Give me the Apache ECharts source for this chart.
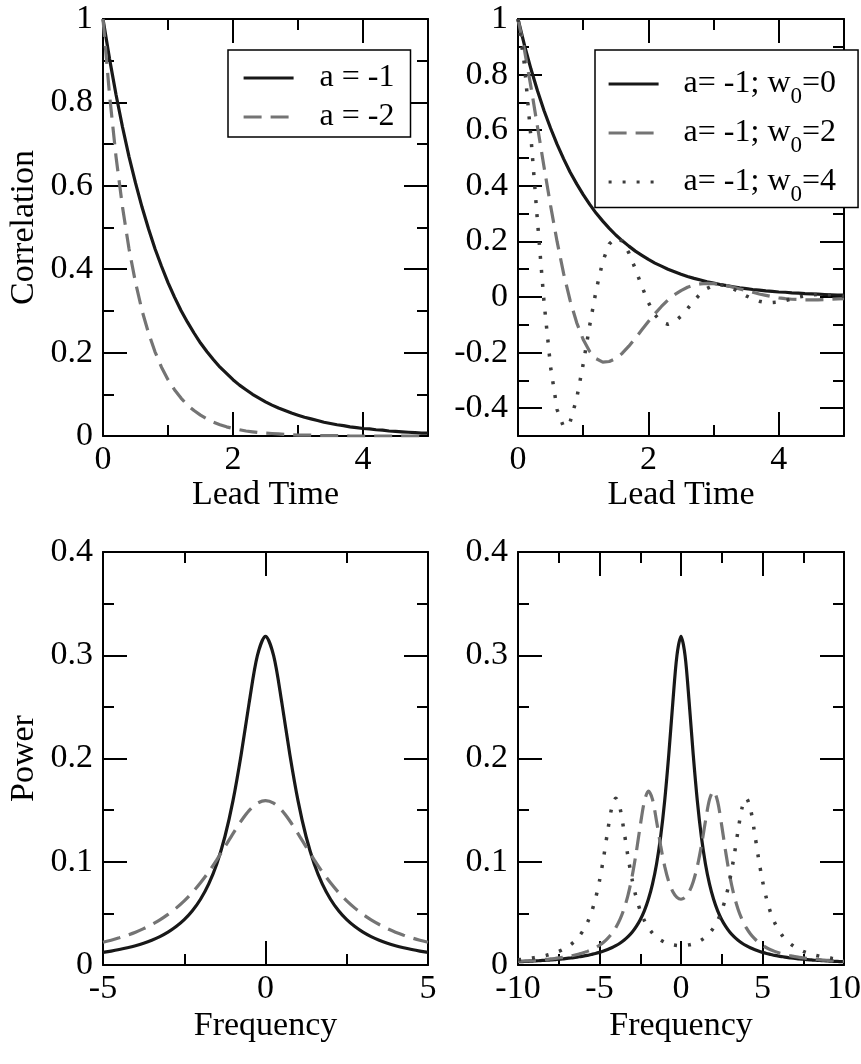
<!DOCTYPE html>
<html>
<head>
<meta charset="utf-8">
<script src="https://cdn.jsdelivr.net/npm/echarts@6/dist/echarts.min.js"></script>
<style>
html, body { margin: 0; padding: 0; background: #fff; }
#main { width: 861px; height: 1064px; }
</style>
</head>
<body>
<div id="main"></div>
<script>
// lead time axis (top panels)
var lag = [0, 0.1, 0.2, 0.3, 0.4, 0.5, 0.6, 0.7, 0.8, 0.9, 1, 1.1, 1.2, 1.3, 1.4, 1.5, 1.6, 1.7, 1.8, 1.9,
  2, 2.1, 2.2, 2.3, 2.4, 2.5, 2.6, 2.7, 2.8, 2.9, 3, 3.1, 3.2, 3.3, 3.4, 3.5, 3.6, 3.7, 3.8, 3.9,
  4, 4.1, 4.2, 4.3, 4.4, 4.5, 4.6, 4.7, 4.8, 4.9, 5];

var corrA1 = [1, 0.905, 0.819, 0.741, 0.670, 0.607, 0.549, 0.497, 0.449, 0.407, 0.368, 0.333, 0.301, 0.273, 0.247,
  0.223, 0.202, 0.183, 0.165, 0.150, 0.135, 0.122, 0.111, 0.100, 0.091, 0.082, 0.074, 0.067, 0.061, 0.055,
  0.050, 0.045, 0.041, 0.037, 0.033, 0.030, 0.027, 0.025, 0.022, 0.020, 0.018, 0.017, 0.015, 0.014, 0.012,
  0.011, 0.010, 0.009, 0.008, 0.007, 0.007];
var corrA2 = [1, 0.819, 0.670, 0.549, 0.449, 0.368, 0.301, 0.247, 0.202, 0.165, 0.135, 0.111, 0.091, 0.074, 0.061,
  0.050, 0.041, 0.033, 0.027, 0.022, 0.018, 0.015, 0.012, 0.010, 0.008, 0.007, 0.006, 0.005, 0.004, 0.003,
  0.002, 0.002, 0.002, 0.001, 0.001, 0.001, 0.001, 0.001, 0, 0, 0, 0, 0, 0, 0,
  0, 0, 0, 0, 0, 0];
var corrW0 = [1, 0.905, 0.819, 0.741, 0.670, 0.607, 0.549, 0.497, 0.449, 0.407, 0.368, 0.333, 0.301, 0.273, 0.247,
  0.223, 0.202, 0.183, 0.165, 0.150, 0.135, 0.122, 0.111, 0.100, 0.091, 0.082, 0.074, 0.067, 0.061, 0.055,
  0.050, 0.045, 0.041, 0.037, 0.033, 0.030, 0.027, 0.025, 0.022, 0.020, 0.018, 0.017, 0.015, 0.014, 0.012,
  0.011, 0.010, 0.009, 0.008, 0.007, 0.007];
var corrW2 = [1, 0.887, 0.754, 0.611, 0.467, 0.328, 0.199, 0.084, -0.013, -0.092, -0.153, -0.196, -0.222, -0.234, -0.232,
  -0.221, -0.202, -0.177, -0.148, -0.118, -0.088, -0.060, -0.034, -0.011, 0.008, 0.023, 0.035, 0.043, 0.047, 0.049,
  0.048, 0.045, 0.041, 0.035, 0.029, 0.023, 0.017, 0.011, 0.006, 0.001, -0.003, -0.006, -0.008, -0.009, -0.010,
  -0.010, -0.010, -0.009, -0.008, -0.007, -0.006];
var corrW4 = [1, 0.833, 0.570, 0.269, -0.020, -0.252, -0.405, -0.468, -0.449, -0.365, -0.241, -0.102, 0.026, 0.128, 0.191,
  0.214, 0.201, 0.159, 0.101, 0.038, -0.020, -0.064, -0.090, -0.098, -0.089, -0.069, -0.042, -0.013, 0.012, 0.031,
  0.042, 0.044, 0.040, 0.030, 0.017, 0.004, -0.007, -0.015, -0.020, -0.020, -0.018, -0.013, -0.007, -0.001, 0.004,
  0.007, 0.009, 0.009, 0.008, 0.005, 0.003];

// frequency axes (bottom panels)
var freq5 = [-5, -4.75, -4.5, -4.25, -4, -3.75, -3.5, -3.25, -3, -2.75, -2.5, -2.25, -2, -1.75, -1.5, -1.25, -1, -0.75, -0.5, -0.25,
  0, 0.25, 0.5, 0.75, 1, 1.25, 1.5, 1.75, 2, 2.25, 2.5, 2.75, 3, 3.25, 3.5, 3.75, 4, 4.25, 4.5, 4.75, 5];
var powA1 = [0.0122, 0.0135, 0.0150, 0.0167, 0.0187, 0.0211, 0.0240, 0.0275, 0.0318, 0.0372, 0.0439, 0.0525, 0.0637, 0.0784,
  0.0979, 0.1242, 0.1592, 0.2037, 0.2546, 0.2996, 0.3183, 0.2996, 0.2546, 0.2037, 0.1592, 0.1242, 0.0979, 0.0784,
  0.0637, 0.0525, 0.0439, 0.0372, 0.0318, 0.0275, 0.0240, 0.0211, 0.0187, 0.0167, 0.0150, 0.0135, 0.0122];
var powA2 = [0.0220, 0.0240, 0.0263, 0.0289, 0.0318, 0.0352, 0.0392, 0.0437, 0.0490, 0.0551, 0.0621, 0.0702, 0.0796, 0.0901,
  0.1019, 0.1144, 0.1273, 0.1395, 0.1498, 0.1567, 0.1592, 0.1567, 0.1498, 0.1395, 0.1273, 0.1144, 0.1019, 0.0901,
  0.0796, 0.0702, 0.0621, 0.0551, 0.0490, 0.0437, 0.0392, 0.0352, 0.0318, 0.0289, 0.0263, 0.0240, 0.0220];

var freq10 = [-10, -9.75, -9.5, -9.25, -9, -8.75, -8.5, -8.25, -8, -7.75, -7.5, -7.25, -7, -6.75, -6.5, -6.25, -6, -5.75, -5.5, -5.25,
  -5, -4.75, -4.5, -4.25, -4, -3.75, -3.5, -3.25, -3, -2.75, -2.5, -2.25, -2, -1.75, -1.5, -1.25, -1, -0.75, -0.5, -0.25,
  0, 0.25, 0.5, 0.75, 1, 1.25, 1.5, 1.75, 2, 2.25, 2.5, 2.75, 3, 3.25, 3.5, 3.75, 4, 4.25, 4.5, 4.75,
  5, 5.25, 5.5, 5.75, 6, 6.25, 6.5, 6.75, 7, 7.25, 7.5, 7.75, 8, 8.25, 8.5, 8.75, 9, 9.25, 9.5, 9.75, 10];
var powW0 = [0.0032, 0.0033, 0.0035, 0.0037, 0.0039, 0.0041, 0.0044, 0.0046, 0.0049, 0.0052, 0.0056, 0.0059, 0.0064, 0.0068,
  0.0074, 0.0080, 0.0086, 0.0093, 0.0102, 0.0111, 0.0122, 0.0135, 0.0150, 0.0167, 0.0187, 0.0211, 0.0240, 0.0275,
  0.0318, 0.0372, 0.0439, 0.0525, 0.0637, 0.0784, 0.0979, 0.1242, 0.1592, 0.2037, 0.2546, 0.2996,
  0.3183,
  0.2996, 0.2546, 0.2037, 0.1592, 0.1242, 0.0979, 0.0784, 0.0637, 0.0525, 0.0439, 0.0372, 0.0318, 0.0275, 0.0240,
  0.0211, 0.0187, 0.0167, 0.0150, 0.0135, 0.0122, 0.0111, 0.0102, 0.0093, 0.0086, 0.0080, 0.0074, 0.0068, 0.0064,
  0.0059, 0.0056, 0.0052, 0.0049, 0.0046, 0.0044, 0.0041, 0.0039, 0.0037, 0.0035, 0.0033, 0.0032];
var powW2 = [0.0036, 0.0038, 0.0040, 0.0042, 0.0045, 0.0048, 0.0052, 0.0055, 0.0059, 0.0063, 0.0069, 0.0074, 0.0081, 0.0088,
  0.0097, 0.0107, 0.0118, 0.0132, 0.0148, 0.0167, 0.0191, 0.0220, 0.0257, 0.0303, 0.0362, 0.0439, 0.0541, 0.0677,
  0.0857, 0.1086, 0.1348, 0.1582, 0.1685, 0.1604, 0.1393, 0.1156, 0.0955, 0.0807, 0.0709, 0.0655,
  0.0637,
  0.0655, 0.0709, 0.0807, 0.0955, 0.1156, 0.1393, 0.1604, 0.1685, 0.1582, 0.1348, 0.1086, 0.0857, 0.0677, 0.0541,
  0.0439, 0.0362, 0.0303, 0.0257, 0.0220, 0.0191, 0.0167, 0.0148, 0.0132, 0.0118, 0.0107, 0.0097, 0.0088, 0.0081,
  0.0074, 0.0069, 0.0063, 0.0059, 0.0055, 0.0052, 0.0048, 0.0045, 0.0042, 0.0040, 0.0038, 0.0036];
var powW4 = [0.0051, 0.0055, 0.0060, 0.0065, 0.0071, 0.0077, 0.0085, 0.0094, 0.0105, 0.0117, 0.0132, 0.0150, 0.0172, 0.0200,
  0.0234, 0.0278, 0.0335, 0.0409, 0.0507, 0.0640, 0.0816, 0.1039, 0.1295, 0.1521, 0.1616, 0.1524, 0.1301, 0.1048,
  0.0828, 0.0655, 0.0527, 0.0432, 0.0362, 0.0309, 0.0271, 0.0242, 0.0220, 0.0205, 0.0195, 0.0189,
  0.0187,
  0.0189, 0.0195, 0.0205, 0.0220, 0.0242, 0.0271, 0.0309, 0.0362, 0.0432, 0.0527, 0.0655, 0.0828, 0.1048, 0.1301,
  0.1524, 0.1616, 0.1521, 0.1295, 0.1039, 0.0816, 0.0640, 0.0507, 0.0409, 0.0335, 0.0278, 0.0234, 0.0200, 0.0172,
  0.0150, 0.0132, 0.0117, 0.0105, 0.0094, 0.0085, 0.0077, 0.0071, 0.0065, 0.0060, 0.0055, 0.0051];

// ticks
var leadMajor = [0, 2, 4], leadMinor = [1, 3, 5];
var corrMajor = [0, 0.2, 0.4, 0.6, 0.8, 1], corrMinor = [0.1, 0.3, 0.5, 0.7, 0.9];
var corr2Major = [-0.4, -0.2, 0, 0.2, 0.4, 0.6, 0.8, 1], corr2Minor = [-0.3, -0.1, 0.1, 0.3, 0.5, 0.7, 0.9];
var freq5Major = [-5, 0, 5], freq5Minor = [-2.5, 2.5];
var freq10Major = [-10, -5, 0, 5, 10], freq10Minor = [-7.5, -2.5, 2.5, 7.5];
var powMajor = [0, 0.1, 0.2, 0.3, 0.4], powMinor = [0.05, 0.15, 0.25, 0.35];

var legend1 = ['a = -1', 'a = -2'];
var legend2 = ['w0=0', 'w0=2', 'w0=4'];

var FONT = 'Liberation Serif';
var BLACK = '#181818', GREY = '#747474', DOT = '#3c3c3c';

function pairs(xs, ys) {
  return xs.map(function (x, i) { return [x, ys[i]]; });
}

// four axes per side: labelled major, minor, mirrored major, mirrored minor
function axes(dim, grid, min, max, major, minor, name, nameGap) {
  var near = dim === 'x' ? 'bottom' : 'left';
  var far = dim === 'x' ? 'top' : 'right';
  var shown = { onZero: false, lineStyle: { color: '#000', width: 2 } };
  var hidden = { show: false, onZero: false };
  function tick(vals, len) {
    return { inside: true, length: len, customValues: vals, lineStyle: { color: '#000', width: 2 } };
  }
  var base = { type: 'value', gridIndex: grid, min: min, max: max, splitLine: { show: false } };
  return [
    Object.assign({}, base, {
      position: near, axisLine: shown, axisTick: tick(major, 24),
      axisLabel: { customValues: major, fontFamily: FONT, fontSize: 34, color: '#000', margin: dim === 'x' ? 7 : 10 },
      name: name || '', nameLocation: 'middle', nameGap: nameGap || 0,
      nameTextStyle: { fontFamily: FONT, fontSize: 34, color: '#000' }
    }),
    Object.assign({}, base, { position: near, axisLine: hidden, axisTick: tick(minor, 11), axisLabel: { show: false } }),
    Object.assign({}, base, { position: far, axisLine: shown, axisTick: tick(major, 24), axisLabel: { show: false } }),
    Object.assign({}, base, { position: far, axisLine: hidden, axisTick: tick(minor, 11), axisLabel: { show: false } })
  ];
}

function line(name, grid, xs, ys, color, type, width, smooth) {
  return {
    name: name, type: 'line', xAxisIndex: grid * 4, yAxisIndex: grid * 4,
    data: pairs(xs, ys), symbol: 'none', showSymbol: false, animation: false,
    smooth: smooth || false,
    lineStyle: { color: color, width: width || 3.2, type: type }, itemStyle: { color: color }
  };
}

var legendBase = {
  orient: 'vertical', itemWidth: 50, itemHeight: 20, selectedMode: false,
  backgroundColor: '#fff', borderColor: '#000', borderWidth: 1.5, borderRadius: 0,
  lineStyle: { width: 3.2 },
  itemStyle: { color: 'transparent', borderColor: 'transparent', borderWidth: 0, opacity: 0 }
};

var myChart = echarts.init(document.getElementById('main'));
var option = {
  animation: false,
  backgroundColor: '#fff',
  textStyle: { fontFamily: FONT },
  grid: [
    { left: 103, top: 19, width: 325, height: 417, outerBoundsMode: 'none' },
    { left: 518, top: 19, width: 326, height: 417, outerBoundsMode: 'none' },
    { left: 103, top: 552, width: 325, height: 413, outerBoundsMode: 'none' },
    { left: 518, top: 552, width: 326, height: 413, outerBoundsMode: 'none' }
  ],
  xAxis: [].concat(
    axes('x', 0, 0, 5, leadMajor, leadMinor, 'Lead Time', 36),
    axes('x', 1, 0, 5, leadMajor, leadMinor, 'Lead Time', 36),
    axes('x', 2, -5, 5, freq5Major, freq5Minor, 'Frequency', 44),
    axes('x', 3, -10, 10, freq10Major, freq10Minor, 'Frequency', 44)
  ),
  yAxis: [].concat(
    axes('y', 0, 0, 1, corrMajor, corrMinor, 'Correlation', 62),
    axes('y', 1, -0.5, 1, corr2Major, corr2Minor),
    axes('y', 2, 0, 0.4, powMajor, powMinor, 'Power', 62),
    axes('y', 3, 0, 0.4, powMajor, powMinor)
  ),
  legend: [
    Object.assign({}, legendBase, {
      data: legend1, left: 228, top: 50,
      padding: [11, 16, 3, 14], itemGap: 5,
      textStyle: { fontFamily: FONT, fontSize: 32, color: '#000', lineHeight: 34, padding: [0, 0, 0, 21] }
    }),
    Object.assign({}, legendBase, {
      data: legend2, left: 595, top: 50,
      padding: [18, 21, 1, 12], itemGap: 8.5,
      formatter: function (name) {
        return '{t|a= -1; w}{s|0}{t|=' + name.split('=')[1] + '}{g| }';
      },
      textStyle: {
        color: '#000', padding: [0, 0, 0, 20],
        rich: {
          t: { fontFamily: FONT, fontSize: 32, color: '#000', lineHeight: 30, verticalAlign: 'middle' },
          s: { fontFamily: FONT, fontSize: 23, color: '#000', lineHeight: 23, verticalAlign: 'bottom' },
          g: { fontFamily: FONT, fontSize: 4, lineHeight: 49 }
        }
      }
    })
  ],
  series: [
    line('a = -1', 0, lag, corrA1, BLACK, 'solid'),
    line('a = -2', 0, lag, corrA2, GREY, [18, 9]),
    line('w0=0', 1, lag, corrW0, BLACK, 'solid'),
    line('w0=2', 1, lag, corrW2, GREY, [18, 9]),
    line('w0=4', 1, lag, corrW4, DOT, [3, 11], 3.5),
    line('P a = -1', 2, freq5, powA1, BLACK, 'solid', 3.2, 0.3),
    line('P a = -2', 2, freq5, powA2, GREY, [18, 9], 3.2, 0.3),
    line('P w0=0', 3, freq10, powW0, BLACK, 'solid', 3.2, 0.3),
    line('P w0=2', 3, freq10, powW2, GREY, [18, 9], 3.2, 0.3),
    line('P w0=4', 3, freq10, powW4, DOT, [3, 11], 3.5, 0.3)
  ]
};
myChart.setOption(option);
</script>
</body>
</html>
